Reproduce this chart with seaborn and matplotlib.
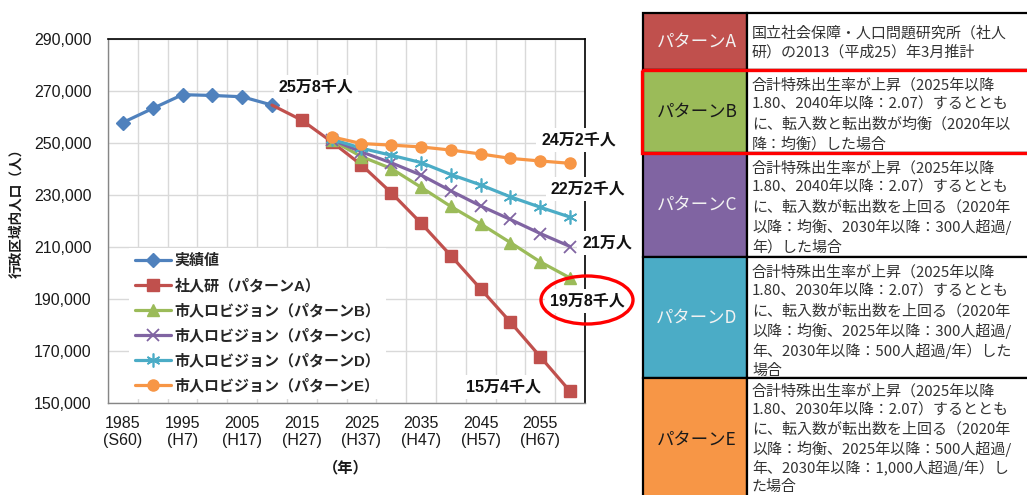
import matplotlib
matplotlib.use("Agg")
import matplotlib.pyplot as plt
import seaborn as sns
import pandas as pd
from matplotlib import font_manager as fm
from matplotlib.patches import Rectangle, Ellipse
from matplotlib.ticker import FuncFormatter

# ---------------- data ----------------
years = [1985, 1990, 1995, 2000, 2005, 2010, 2015, 2020,
         2025, 2030, 2035, 2040, 2045, 2050, 2055, 2060]
tick_years = [1985, 1995, 2005, 2015, 2025, 2035, 2045, 2055]
tick_eras = ["S60", "H7", "H17", "H27", "H37", "H47", "H57", "H67"]

actual_years = years[:6]
actual = [258000, 263400, 268700, 268400, 267900, 264700]

patA_years = years[5:]
patA = [264700, 258900, 250600, 241700, 231000, 219300, 206800, 194000,
        181200, 167900, 154600]

proj_years = years[7:]
patB = [251200, 244900, 240300, 233100, 225700, 219000, 211800, 204400, 198200]
patC = [251400, 246700, 242500, 237800, 231700, 225900, 220700, 215300, 210300]
patD = [251600, 248100, 245400, 242600, 238000, 234000, 229400, 225400, 221600]
patE = [252500, 249900, 249300, 248600, 247400, 245900, 244200, 243200, 242300]

series_labels = ["実績値", "社人研（パターンA）", "市人ロビジョン（パターンB）",
                 "市人ロビジョン（パターンC）", "市人ロビジョン（パターンD）",
                 "市人ロビジョン（パターンE）"]

annot_texts = ["25万8千人", "24万2千人", "22万2千人", "21万人", "19万8千人", "15万4千人"]
annot_x = [2017.4, 2061.4, 2063.0, 2066.2, 2062.9, 2048.8]
annot_y = [271600, 251300, 232400, 211600, 189300, 156300]

ylabel = "行政区域内人口（人）"
xlabel = "（年）"

pattern_names = ["パターンA", "パターンB", "パターンC", "パターンD", "パターンE"]
pattern_texts = [
    ["国立社会保障・人口問題研究所（社人",
     "研）の2013（平成25）年3月推計"],
    ["合計特殊出生率が上昇（2025年以降",
     "1.80、2040年以降：2.07）するととも",
     "に、転入数と転出数が均衡（2020年以",
     "降：均衡）した場合"],
    ["合計特殊出生率が上昇（2025年以降",
     "1.80、2040年以降：2.07）するととも",
     "に、転入数が転出数を上回る（2020年",
     "以降：均衡、2030年以降：300人超過/",
     "年）した場合"],
    ["合計特殊出生率が上昇（2025年以降",
     "1.80、2030年以降：2.07）するととも",
     "に、転入数が転出数を上回る（2020年",
     "以降：均衡、2025年以降：300人超過/",
     "年、2030年以降：500人超過/年）した",
     "場合"],
    ["合計特殊出生率が上昇（2025年以降",
     "1.80、2030年以降：2.07）するととも",
     "に、転入数が転出数を上回る（2020年",
     "以降：均衡、2025年以降：500人超過/",
     "年、2030年以降：1,000人超過/年）し",
     "た場合"],
]

# ---------------- style ----------------
sns.set_style("white")
avail = {f.name for f in fm.fontManager.ttflist}
NARROW = "Liberation Sans Narrow" in avail
LAT = "Liberation Sans Narrow" if NARROW else "Liberation Sans"
FAM = [LAT, "Noto Sans CJK JP", "DejaVu Sans"]
CJK = ["Noto Sans CJK JP", "DejaVu Sans"]
plt.rcParams["font.family"] = FAM
tick_fs = 14 if NARROW else 11.5

c_blue, c_red, c_green = "#4F81BD", "#C0504D", "#9BBB59"
c_purple, c_teal, c_orange = "#8064A2", "#4BACC6", "#F79646"
grid_c = "#D9D9D9"
axis_c = "#868686"

W, H = 1027, 495
fig = plt.figure(figsize=(W / 100, H / 100), dpi=100)
fig.patch.set_facecolor("white")

ax_l, ax_r, ax_t, ax_b = 108, 585, 39.3, 403.3
ax = fig.add_axes([ax_l / W, (H - ax_b) / H, (ax_r - ax_l) / W, (ax_b - ax_t) / H])

lw = 2.3


def draw(xv, yv, color, marker, ms, label=None, mew=1.0):
    sns.lineplot(x=xv, y=yv, ax=ax, color=color, marker=marker, markersize=ms,
                 markeredgecolor=color, markerfacecolor=color, markeredgewidth=mew,
                 linewidth=lw, label=label, sort=False, estimator=None, legend=False)


draw(actual_years, actual, c_blue, "D", 7, series_labels[0])
# red connecting segment from last actual value (no marker)
sns.lineplot(x=patA_years[:2], y=patA[:2], ax=ax, color=c_red, linewidth=lw,
             sort=False, estimator=None, legend=False)
draw(patA_years[1:], patA[1:], c_red, "s", 8, series_labels[1])
draw(proj_years, patB, c_green, "^", 9, series_labels[2])
draw(proj_years, patC, c_purple, "x", 8, series_labels[3], mew=1.3)
draw(proj_years, patD, c_teal, (6, 2, 0), 10, series_labels[4], mew=1.2)
draw(proj_years, patE, c_orange, "o", 8, series_labels[5])

# axes limits / ticks
step = years[1] - years[0]
ax.set_xlim(years[0] - step / 2, years[-1] + step / 2)
ax.set_ylim(150000, 290000)
bounds = [y - step / 2 for y in years] + [years[-1] + step / 2]
ax.set_xticks(bounds, minor=True)
ax.set_xticks(tick_years)
ax.set_xticklabels([f"{y}\n({e})" for y, e in zip(tick_years, tick_eras)],
                   fontsize=tick_fs, linespacing=1.2)
ax.set_yticks(list(range(150000, 290001, 20000)))
ax.yaxis.set_major_formatter(FuncFormatter(lambda v, p: f"{int(v):,}"))
for lbl in ax.get_yticklabels():
    lbl.set_fontsize(tick_fs)
ax.tick_params(axis="x", which="major", length=0, pad=9, labelcolor="#1a1a1a")
ax.tick_params(axis="x", which="minor", length=5, width=1, color=axis_c, direction="out")
ax.tick_params(axis="y", which="major", length=5, width=1, color=axis_c, direction="out",
               pad=7, labelcolor="#1a1a1a")
ax.set_xlabel("")
ax.set_ylabel("")

ax.grid(False)
ax.grid(which="minor", axis="x", color=grid_c, linewidth=1)
ax.grid(which="major", axis="y", color=grid_c, linewidth=1)
ax.set_axisbelow(True)

for s in ["left", "bottom"]:
    ax.spines[s].set_color(axis_c)
    ax.spines[s].set_linewidth(1)
for s in ["top", "right"]:
    ax.spines[s].set_color("black")
    ax.spines[s].set_linewidth(1.2)

# legend
handles, labels = ax.get_legend_handles_labels()
leg = ax.legend(handles, labels, loc="lower left", bbox_to_anchor=(0.045, 0.012),
                frameon=True, fancybox=False, edgecolor="none", facecolor="white",
                framealpha=1, prop={"family": FAM, "weight": "bold", "size": 10.8},
                handlelength=2.45, handletextpad=0.2, labelspacing=0.7,
                borderpad=0.35, numpoints=1, borderaxespad=0)

# annotations
for t, x, y in zip(annot_texts, annot_x, annot_y):
    ax.text(x, y, t, ha="center", va="center", fontsize=11.5, fontweight="bold",
            family=FAM, color="#111111", zorder=6, clip_on=False,
            bbox=dict(boxstyle="square,pad=0.3", facecolor="white", edgecolor="none"))

fig.text(16 / W, 1 - 210 / H, ylabel, rotation=90, ha="center", va="center",
         fontsize=9.8, fontweight="bold", family=CJK, color="#1a1a1a")
fig.text(346 / W, 1 - 467 / H, xlabel, ha="center", va="center",
         fontsize=11, fontweight="bold", family=CJK, color="#1a1a1a")

# ---------------- overlay (table + ellipse) ----------------
ov = fig.add_axes([0, 0, 1, 1], zorder=5)
ov.set_xlim(0, W)
ov.set_ylim(H, 0)
ov.axis("off")

ov.add_patch(Ellipse((587, 300), 92, 48, fill=False, edgecolor="#FF0000", linewidth=2.4))

cell_colors = [c_red, c_green, c_purple, c_teal, c_orange]
label_colors = ["#F2F2F2", "#1a1a1a", "#F2F2F2", "#F2F2F2", "#1a1a1a"]
row_tops = [13, 70, 153, 257, 378]
row_bots = [70, 153, 257, 378, 502]
first_line = [33, 85, 168, 272, 391]
line_steps = [19.8, 19.8, 19.8, 19.8, 19.2]
col0, col1, col2 = 643, 747, 1040

for i in range(len(pattern_names)):
    top, bot = row_tops[i], row_bots[i]
    ov.add_patch(Rectangle((col0, top), col1 - col0, bot - top, facecolor=cell_colors[i],
                           edgecolor="black", linewidth=1.6))
    ov.add_patch(Rectangle((col1, top), col2 - col1, bot - top, facecolor="white",
                           edgecolor="black", linewidth=1.6))
    ov.text((col0 + col1) / 2 + 2, (top + bot) / 2, pattern_names[i], ha="center",
            va="center", fontsize=12.5, family=CJK, color=label_colors[i])
    for j, line in enumerate(pattern_texts[i]):
        ov.text(752, first_line[i] + j * line_steps[i], line, ha="left", va="center",
                fontsize=10.8, family=CJK, color="#333333")

ov.add_patch(Rectangle((642, 70), col2 - 642, 83, fill=False, edgecolor="#FF0000",
                       linewidth=2.4))

fig.savefig("out.png", dpi=100)
